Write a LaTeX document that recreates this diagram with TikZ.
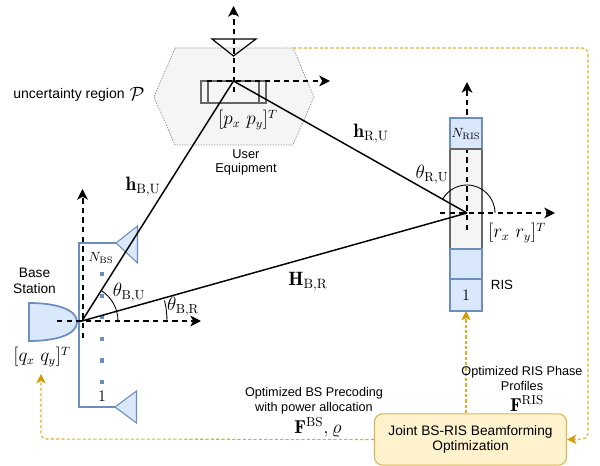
\documentclass[tikz,border=0pt]{standalone}
\usepackage{fontspec}
\newfontfamily\hv{Liberation Sans}
\usetikzlibrary{arrows.meta}
\definecolor{bluel}{HTML}{6C8EBF}
\definecolor{bluef}{HTML}{DAE8FC}
\definecolor{org}{HTML}{D79B00}
\definecolor{orgline}{HTML}{E5AC2C}
\definecolor{yelf}{HTML}{FFF2CC}
\definecolor{yell}{HTML}{D6B656}
\definecolor{grayl}{HTML}{666666}
\definecolor{grayf}{HTML}{F5F5F5}
\tikzset{
 axis/.style={black,line width=1.5pt,dash pattern=on 4pt off 3.2pt,-{Stealth[length=8pt,width=8pt,inset=2.2pt]}},
 link/.style={black,line width=1.1pt},
 ang/.style={black,line width=0.65pt},
 ctrl/.style={orgline,line width=0.8pt,dash pattern=on 2.4pt off 1.6pt,rounded corners=4pt,-{Stealth[length=7pt,width=7pt,inset=1.8pt,color=org]}},
 lab/.style={inner sep=0pt,align=center,font=\hv\fontsize{9.5pt}{11.25pt}\selectfont},
 mth/.style={inner sep=0pt,font=\fontsize{14pt}{15pt}\selectfont},
 elt/.style={draw=bluel,fill=bluef,line width=1.3pt},
 ant/.style={draw=bluel,fill=bluef,line width=0.8pt},
 dot/.style={fill=bluel,draw=none,minimum size=3.7pt,inner sep=0pt},
 grayb/.style={draw=grayl,line width=1.5pt},
 x=0.75pt,y=-0.75pt
}
\begin{document}
\begin{tikzpicture}
\useasboundingbox (0,0) rectangle (600,466);
\coordinate (bs) at (82,321);
\coordinate (ue) at (233.5,81);
\coordinate (ris) at (467,213);
% hexagon
\draw[grayl!80,fill=grayf,line width=0.5pt,dash pattern=on 1pt off 1pt] (175,48) coordinate (hexa) -- (293,48) coordinate (hexb) -- (314,97) -- (293,145) -- (175,145) -- (154,97) -- cycle;
% UE
\draw[black,line width=0.9pt] (212,39) -- (256,39) -- (233.5,56) -- cycle;
\draw[grayb] (201,81) rectangle (266,103);
\draw[grayb] (208,81) -- (208,103);
\draw[grayb] (259,81) -- (259,103);
% BS
\draw[elt] (29,303) .. controls (55,303) and (77,309) .. (77,322) .. controls (77,335) and (55,341) .. (29,341) -- cycle;
\draw[bluel,line width=1.9pt] (116,243) -- (79,243) -- (79,407) -- (115,407);
\draw[ant] (116,243) -- (137.5,226) -- (137.5,263) -- cycle;
\draw[ant] (115,407) -- (136.5,391) -- (136.5,423) -- cycle;
\foreach \n/\y in {a/274,b/296,c/317,d/339,e/360.5,f/382} \node[dot] (dot\n) at (102,\y) {};
% RIS
\node[draw=grayl,fill=grayf,line width=1.5pt,minimum width=24pt,minimum height=75pt,inner sep=0pt,outer sep=0pt] (rmid) at (466,199) {};
\node[elt,minimum width=24pt,minimum height=22.5pt,inner sep=0pt,outer sep=0pt] (rlow) at (466,264) {};
\node[elt,minimum width=24pt,minimum height=24pt,inner sep=0pt,outer sep=0pt,font=\fontsize{11.5pt}{13pt}\selectfont] (rone) at (466,295) {$1$};
% axes
\draw[axis] (82.5,338) -- (82.5,189);
\draw[axis] (57,321) -- (201,321);
\draw[axis] (233.5,92) -- (233.5,6);
\draw[axis] (207,81) -- (330,81);
\draw[axis] (467,230) -- (467,82);
\draw[axis] (440,213) -- (555,213);
\node[elt,minimum width=24pt,minimum height=23.25pt,inner sep=0pt,outer sep=0pt] (rtop) at (466,133.5) {};
\draw[draw=grayl,line width=1.5pt] (rmid.north west) -- (rmid.north east);
\node[inner sep=0pt] at (466,134) {$N_{\mathrm{RIS}}$};
% links
\draw[link] (bs) -- (ue);
\draw[link] (ue) -- (ris);
\draw[link] (bs) -- (ris);
% angles
\draw[ang] (118,321) arc[start angle=0,end angle=58,radius=27pt];
\draw[ang] (167,321) arc[start angle=0,end angle=14,radius=63.75pt];
\draw[ang] (495,213) arc[start angle=0,end angle=150,radius=21pt];
% joint box
\node[draw=yell,fill=yelf,line width=0.8pt,rounded corners=6pt,minimum width=144pt,minimum height=38.5pt,inner sep=0pt,align=center,font=\hv\fontsize{10.3pt}{11.25pt}\selectfont] (opt) at (470.5,439.5) {Joint BS-RIS Beamforming\\Optimization};
% control
\coordinate (bsq) at (41,374);
\draw[ctrl] (hexb) -- (588,48) -- (588,439) -- (opt.east);
\draw[ctrl] (opt.west) -- (41,439) -- (bsq);
\draw[ctrl] (opt.north -| rone) -- (rone.south);
% labels
\node[lab,font=\hv\fontsize{10.5pt}{12pt}\selectfont] at (69,95) {uncertainty region};
\node[inner sep=0pt,font=\fontsize{15pt}{16pt}\selectfont] at (137,94) {$\mathcal{P}$};
\node[lab,font=\hv\fontsize{9.6pt}{10.5pt}\selectfont] at (246,162) {User\\Equipment};
\node[lab,font=\hv\fontsize{10.3pt}{12pt}\selectfont] at (34.5,281) {Base\\Station};
\node[lab,font=\hv\fontsize{10pt}{12pt}\selectfont] at (502,285) {RIS};
\node[lab] at (314,400.5) {Optimized BS Precoding\\with power allocation};
\node[lab] at (522,378.5) {Optimized RIS Phase\\Profiles};
\node[mth,font=\fontsize{13.5pt}{15pt}\selectfont] at (248,120) {$[p_x\ p_y]^T$};
\node[mth,font=\fontsize{13.5pt}{15pt}\selectfont] at (517,233) {$[r_x\ r_y]^T$};
\node[mth,font=\fontsize{13.5pt}{15pt}\selectfont] at (42,357) {$[q_x\ q_y]^T$};
\node[mth,font=\fontsize{14.5pt}{15pt}\selectfont] at (371,134) {$\mathbf{h}_{\mathrm{R,U}}$};
\node[mth,font=\fontsize{14.5pt}{15pt}\selectfont] at (143,187) {$\mathbf{h}_{\mathrm{B,U}}$};
\node[mth,font=\fontsize{14.5pt}{15pt}\selectfont] at (308,282) {$\mathbf{H}_{\mathrm{B,R}}$};
\node[mth] at (432,175) {$\theta_{\mathrm{R,U}}$};
\node[mth] at (129,293) {$\theta_{\mathrm{B,U}}$};
\node[mth] at (183,307) {$\theta_{\mathrm{B,R}}$};
\node[inner sep=0pt] at (101,258) {$N_{\mathrm{BS}}$};
\node[inner sep=0pt,font=\fontsize{11.5pt}{13pt}\selectfont] at (102,396) {$1$};
\node[mth] at (527,403) {$\mathbf{F}^{\mathrm{RIS}}$};
\node[mth] at (318,427) {$\mathbf{F}^{\mathrm{BS}},\varrho$};
\end{tikzpicture}
\end{document}
